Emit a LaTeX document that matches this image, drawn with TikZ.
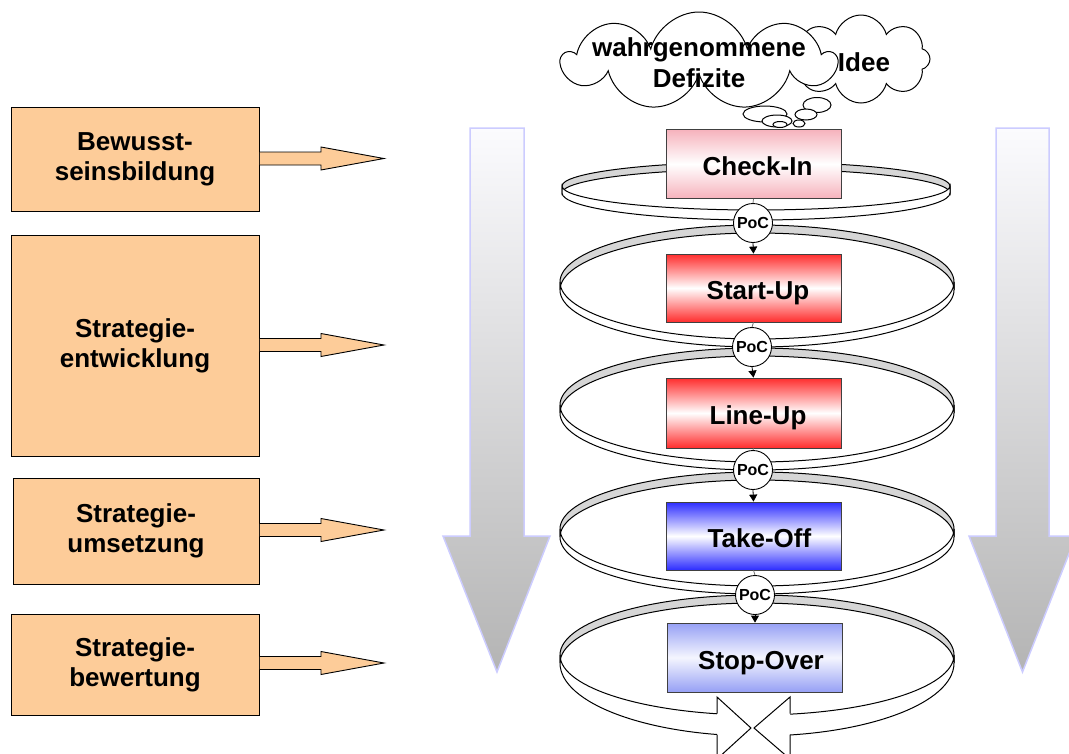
\documentclass[tikz,border=0pt]{standalone}
\usepackage{fontspec}
\setmainfont{Liberation Sans}
\usetikzlibrary{shapes.symbols,arrows.meta,calc}
\definecolor{orangebox}{RGB}{253,204,153}
\definecolor{bandgray}{RGB}{214,214,214}
\definecolor{arrowedge}{RGB}{204,204,255}
\definecolor{arrowtop}{RGB}{251,251,254}
\definecolor{arrowbot}{RGB}{180,180,180}
\definecolor{pinkc}{RGB}{246,178,188}
\definecolor{redc}{RGB}{255,45,45}
\definecolor{bluec}{RGB}{45,45,255}
\definecolor{lbluec}{RGB}{150,160,245}
\newcommand{\ringback}[5]{%
  \path[ringline, fill=bandgray] (#1-#3,#2) arc[start angle=180,end angle=360,x radius=#3,y radius=#4] -- (#1+#3,#2+#5) arc[start angle=360,end angle=180,x radius=#3,y radius=#4] -- cycle;}
\newcommand{\ringfront}[6]{%
  \path[ringline, fill=white] (#1+#3,#2) arc[start angle=0,end angle=180,x radius=#3,y radius=#4] -- (#1-#3,#2+#5) arc[start angle=180,end angle=0,x radius=#3,y radius=#6] -- cycle;}
\begin{document}
\begin{tikzpicture}[x=1pt,y=-1pt,
  bigtext/.style={font=\fontsize{26}{30}\selectfont\bfseries},
  lbox/.style={draw=black, fill=orangebox, line width=0.9pt, align=center, inner sep=0, minimum width=248, bigtext},
  boxarrow/.style={draw=black, fill=orangebox, line width=0.9pt, line join=miter},
  bigarrow/.style={draw=arrowedge, line width=1.5pt, top color=arrowtop, bottom color=arrowbot},
  stage/.style={draw=black!75, line width=0.8pt, minimum width=175, minimum height=69, inner sep=0, text height=23, text depth=0, bigtext},
  ringline/.style={draw=black, line width=1pt},
  poc/.style={circle, draw=black, fill=white, line width=0.9pt, minimum size=39, inner sep=0, font=\fontsize{16}{17}\selectfont\bfseries},
  thinline/.style={draw=black!55, line width=0.8pt},
  pocarrow/.style={draw=black, line width=0.8pt, -{Triangle[width=8pt,length=7pt]}},
  cloudst/.style={cloud, draw=black, fill=white, line width=1pt, inner sep=0},
  cloudtext/.style={align=center, inner sep=0, font=\fontsize{26}{31}\selectfont\bfseries},
  bubble/.style={draw=black, fill=white, line width=1pt}
]
\useasboundingbox (0,0) rectangle (1069,753);
\fill[white] (0,0) rectangle (1069,753);

% big gradient arrows
\path[bigarrow] (470,128) -- (524,128) -- (524,536) -- (550,536) -- (497,672) -- (443,536) -- (470,536) -- cycle;
\path[bigarrow] (996,128) -- (1049,128) -- (1049,536) -- (1076,536) -- (1022.5,672) -- (969,536) -- (996,536) -- cycle;

% left boxes
\node[lbox, minimum height=104] (b1) at (135,159) {Bewusst-\\seinsbildung};
\node[lbox, minimum height=221] (b2) at (135,345.5) {Strategie-\\entwicklung};
\node[lbox, minimum width=246, minimum height=106] (b3) at (136,531) {Strategie-\\umsetzung};
\node[lbox, minimum height=101] (b4) at (135,664.5) {Strategie-\\bewertung};
\foreach \b/\dy in {b1/-0.5, b2/-0.5, b3/-1, b4/-1.5}{
  \path[boxarrow, shift={($(\b.east)+(0.5,\dy)$)}] (0,-6.5) -- (61,-6.5) -- (61,-11.5) -- (124,0) -- (61,11.5) -- (61,6.5) -- (0,6.5);
}

% clouds
\node[cloudst, cloud puffs=8, aspect=1.5, minimum width=138, minimum height=88] (ideecloud) at (861,59) {};
\node[cloudst, cloud puffs=9, aspect=2.7, minimum width=272, minimum height=98] (defcloud) at (699,61) {};
\node[cloudtext] (idee) at (864,62) {Idee};
\node[cloudtext] (defizit) at (699,63) {wahrgenommene\\Defizite};
\path[bubble] (817,105) ellipse[x radius=14, y radius=7.5];
\path[bubble] (765,114) ellipse[x radius=22, y radius=8];
\path[bubble] (806,114.5) ellipse[x radius=11, y radius=5.5];
\path[bubble] (777,121) ellipse[x radius=15, y radius=6];
\path[bubble] (780,124.5) ellipse[x radius=7, y radius=3];
\path[bubble] (799,123.5) ellipse[x radius=6, y radius=3.5];

% ring backs
\ringback{756}{186}{194}{24}{7}
\ringback{757}{282}{197}{57}{8}
\ringback{757}{405}{197}{57}{8}
\ringback{757}{529}{197}{57}{8}
\ringback{757}{655}{197}{60}{8}

% stage boxes
\node[stage, top color=pinkc, bottom color=pinkc, middle color=white] (checkin) at (753.5,164) {\hspace*{8pt}Check-In};
\node[stage, minimum height=68, top color=redc, bottom color=redc, middle color=white] (startup) at (753.5,288) {\hspace*{9pt}Start-Up};
\node[stage, minimum height=70, top color=redc, bottom color=redc, middle color=white] (lineup) at (753.5,413) {\hspace*{9pt}Line-Up};
\node[stage, minimum height=68, top color=bluec, bottom color=bluec, middle color=white] (takeoff) at (753.5,536) {\hspace*{12pt}Take-Off};
\node[stage, top color=lbluec, bottom color=lbluec, middle color=white!90!lbluec] (stopover) at (755,657.5) {\hspace*{12pt}Stop-Over};

% ring fronts
\ringfront{756}{186}{194}{24}{7}{27}
\ringfront{757}{282}{197}{57}{8}{57}
\ringfront{757}{405}{197}{57}{8}{57}
\ringfront{757}{529}{197}{57}{8}{57}
\ringfront{757}{655}{197}{60}{8}{73}

% crossing arrowheads at the bottom
\fill[white] (718,696) rectangle (789,753);
\path[fill=white] (717,697) -- (751,728) -- (717,759) -- cycle;
\path[fill=white] (790,697) -- (754,728) -- (790,759) -- cycle;
\draw[ringline] (717,713.5) -- (717,697) -- (751,728) -- (717,759) -- (717,734.5);
\draw[ringline] (790,713.5) -- (790,697) -- (754,728) -- (790,759) -- (790,734.5);

% PoC circles and connectors
\node[poc] (poc1) at (753,223) {PoC};
\node[poc] (poc2) at (752,347) {PoC};
\node[poc] (poc3) at (753,470) {PoC};
\node[poc] (poc4) at (755,595) {PoC};
\draw[thinline] (checkin.south) -- (poc1.north);
\draw[thinline] (startup.south) -- (poc2.north);
\draw[thinline] (lineup.south) -- (poc3.north);
\draw[thinline] (takeoff.south) -- (poc4.north);
\draw[pocarrow] (poc1.south) -- (startup.north);
\draw[pocarrow] (poc2.south) -- (lineup.north);
\draw[pocarrow] (poc3.south) -- (takeoff.north);
\draw[pocarrow] (poc4.south) -- (stopover.north);
\end{tikzpicture}
\end{document}
